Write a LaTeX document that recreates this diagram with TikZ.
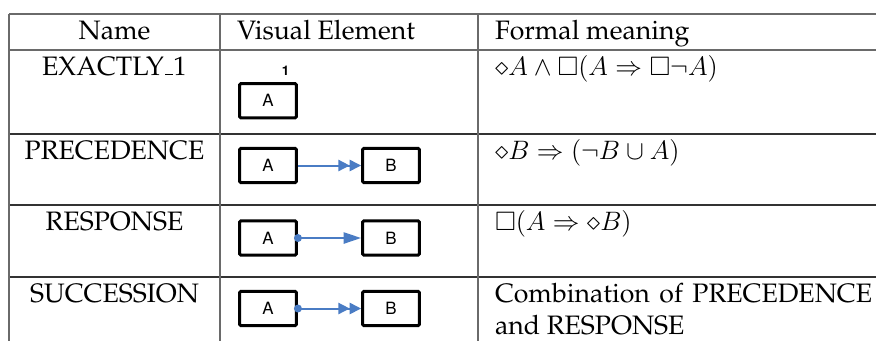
\documentclass[tikz,border=0pt]{standalone}
\usepackage[T1]{fontenc}
\renewcommand{\rmdefault}{ppl}
\usepackage{amssymb}
\usetikzlibrary{arrows.meta}
\definecolor{rulegray}{HTML}{6A6A6A}
\definecolor{rowrule}{HTML}{333333}
\definecolor{linkblue}{HTML}{4A7CC4}
% low, short underscore as in the classic OT1 definition
\newcommand{\lowbar}{\leavevmode\kern.06em\vbox{\hrule width.3em height .45pt}}
\begin{document}
\begin{tikzpicture}[x=0.45pt,y=-0.45pt,
  every node/.style={inner sep=0pt, outer sep=0pt},
  cell/.style={font=\fontsize{12}{14.4}\selectfont, anchor=base},
  lcell/.style={cell, anchor=base west},
  vrule/.style={draw=rulegray, line width=0.6pt},
  hrule/.style={draw=rulegray, line width=0.6pt},
  rowline/.style={draw=rowrule, line width=0.55pt},
  actbox/.style={draw=black, line width=1.35pt, rounded corners=0.6pt,
    minimum width=25.6pt, minimum height=15.5pt, outer sep=0.67pt,
    font=\fontfamily{phv}\fontsize{7.6}{8}\selectfont},
  link/.style={draw=linkblue, line width=0.9pt},
  onehead/.style={-{Triangle[length=7.8pt,width=5pt]}},
  twohead/.style={-{Triangle[length=5.1pt,width=5pt]Triangle[length=5.1pt,width=5pt]}},
  dot/.style={fill=linkblue}
]
\useasboundingbox (0,0) rectangle (876,341);

% table rules
\draw[hrule] (9,14) -- (876,14);
\draw[hrule] (9,50) -- (876,50);
\draw[rowline] (9,134) -- (876,134);
\draw[rowline] (9,205) -- (876,205);
\draw[rowline] (9,277) -- (876,277);
\draw[vrule] (9,14) -- (9,341);
\draw[vrule] (220,14) -- (220,341);
\draw[vrule] (478,14) -- (478,341);

% header
\node[cell] (hName) at (114.5,39) {Name};
\node[lcell] (hVis) at (237,39) {Visual Element};
\node[lcell] (hForm) at (495,39) {Formal meaning};

% constraint names
\node[cell] (nEx) at (114.5,75) {EXACTLY\lowbar 1};
\node[cell] (nPrec) at (114.5,159.5) {PRECEDENCE};
\node[cell] (nResp) at (114.5,230.5) {RESPONSE};
\node[cell] (nSucc) at (114.5,302) {SUCCESSION};

% formal meanings
\node[lcell] (fEx) at (495,75) {$\diamond A \wedge \Box(A \Rightarrow \Box\neg A)$};
\node[lcell] (fPrec) at (495,159.5) {$\diamond B \Rightarrow (\neg B \cup A)$};
\node[lcell] (fResp) at (495,230.5) {$\Box(A \Rightarrow \diamond B)$};
\node[lcell] (fSucc) at (495,302) {\makebox[169.7pt][s]{Combination of PRECEDENCE}};
\node[lcell] (fSucc2) at (495,334) {and RESPONSE};

% EXACTLY_1
\node[actbox] (eA) at (268,100.75) {A};
\node[font=\fontfamily{phv}\bfseries\fontsize{6}{7}\selectfont] (eOne) at (285.5,70.5) {1};

% PRECEDENCE
\node[actbox] (pA) at (268,165.5) {A};
\node[actbox] (pB) at (391,165.5) {B};
\draw[link, twohead] (pA.east) -- (pB.west);

% RESPONSE
\node[actbox] (rA) at (268,238) {A};
\node[actbox] (rB) at (391,238) {B};
\draw[link, onehead] (rA.east) -- (rB.west);
\fill[dot] (rA.east) circle (1.8pt);

% SUCCESSION
\node[actbox] (sA) at (268,308.5) {A};
\node[actbox] (sB) at (391,308.5) {B};
\draw[link, twohead] (sA.east) -- (sB.west);
\fill[dot] (sA.east) circle (1.8pt);
\end{tikzpicture}
\end{document}
